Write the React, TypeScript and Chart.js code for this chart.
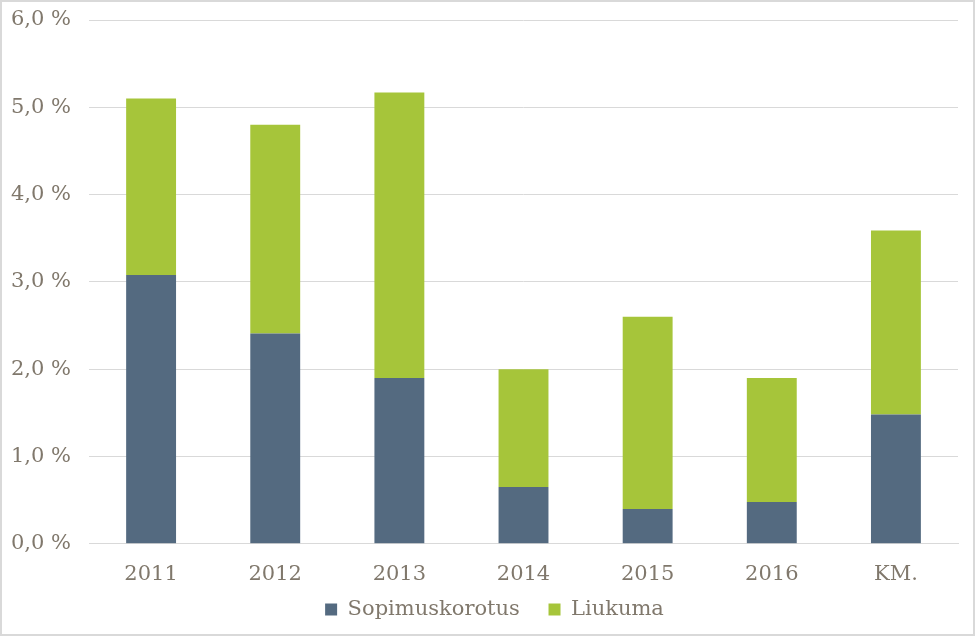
import React, { useEffect, useRef } from "react";
import { Chart, registerables } from "chart.js";

Chart.register(...registerables);

const categories = ["2011", "2012", "2013", "2014", "2015", "2016", "KM."];
const sopimuskorotus = [3.08, 2.41, 1.9, 0.65, 0.4, 0.48, 1.48];
const liukuma = [2.02, 2.39, 3.27, 1.35, 2.2, 1.42, 2.11];
const yTicks = [0, 1, 2, 3, 4, 5, 6];

const FONT = "'DejaVu Serif', Georgia, serif";
const TEXT = "#80786c";

const legendShift = {
  id: "legendShift",
  afterLayout(chart: any) {
    if (chart.legend) {
      chart.legend.left += 19;
      chart.legend.right += 19;
    }
  },
};

export default function App() {
  const ref = useRef<HTMLCanvasElement | null>(null);
  useEffect(() => {
    document.body.style.margin = "0";
    const ctx = ref.current!;
    const chart = new Chart(ctx, {
      type: "bar",
      data: {
        labels: categories,
        datasets: [
          {
            label: "Sopimuskorotus",
            data: sopimuskorotus,
            backgroundColor: "#546a80",
            barPercentage: 0.6,
            categoryPercentage: 0.67,
          },
          {
            label: "Liukuma",
            data: liukuma,
            backgroundColor: "#a6c53a",
            barPercentage: 0.6,
            categoryPercentage: 0.67,
          },
        ],
      },
      plugins: [legendShift],
      options: {
        animation: false,
        responsive: true,
        maintainAspectRatio: false,
        layout: { padding: { top: 18, right: 15, left: -9, bottom: 4 } },
        plugins: {
          tooltip: { enabled: false },
          legend: {
            position: "bottom",
            labels: {
              boxWidth: 12,
              boxHeight: 12,
              padding: 2,
              color: TEXT,
              font: { family: FONT, size: 21 },
              generateLabels: (c: any) => {
                const items = Chart.defaults.plugins.legend.labels.generateLabels(c);
                return items.map((it: any, i: number) =>
                  i < items.length - 1 ? { ...it, text: it.text + "    " } : it
                );
              },
            },
          },
        },
        scales: {
          x: {
            stacked: true,
            grid: { display: false },
            border: { color: "#d9d9d9" },
            ticks: { color: TEXT, font: { family: FONT, size: 21 }, padding: 10 },
          },
          y: {
            stacked: true,
            min: 0,
            max: 6,
            afterBuildTicks: (axis: any) => {
              axis.ticks = yTicks.map((v) => ({ value: v }));
            },
            afterFit: (s: any) => {
              s.paddingTop = 0;
            },
            grid: { color: "#d9d9d9", drawTicks: false },
            border: { display: false },
            ticks: {
              color: TEXT,
              font: { family: FONT, size: 21 },
              padding: 18,
              callback: (v: any) => Number(v).toFixed(1).replace(".", ",") + " %",
            },
          },
        },
      },
    });
    return () => chart.destroy();
  }, []);
  return (
    <div
      style={{
        position: "absolute",
        left: 0,
        top: 0,
        width: 975,
        height: 636,
        boxSizing: "border-box",
        border: "2px solid #d9d9d9",
        background: "#fff",
      }}
    >
      <canvas ref={ref} />
    </div>
  );
}
